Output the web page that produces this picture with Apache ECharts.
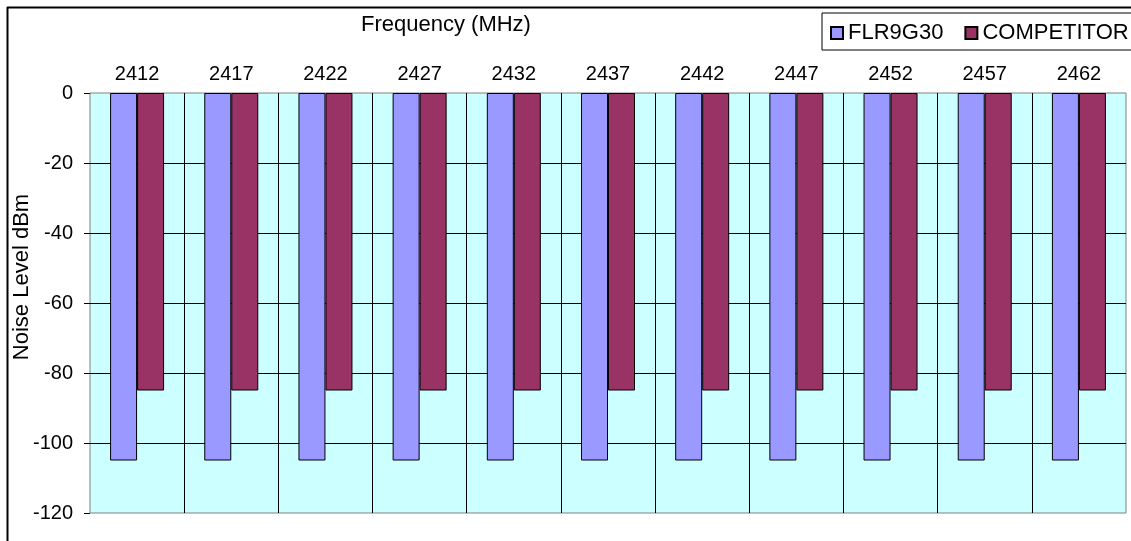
<!DOCTYPE html>
<html>
<head>
<meta charset="utf-8">
<script src="https://cdn.jsdelivr.net/npm/echarts@6/dist/echarts.min.js"></script>
<style>
html,body{margin:0;padding:0;background:#fff;}
#chart{width:1131px;height:541px;}
</style>
</head>
<body>
<div id="chart"></div>
<script>
const categories = ['2412','2417','2422','2427','2432','2437','2442','2447','2452','2457','2462'];
const flr9g30 = [-105,-105,-105,-105,-105,-105,-105,-105,-105,-105,-105];
const competitor = [-85,-85,-85,-85,-85,-85,-85,-85,-85,-85,-85];
const yTicks = {min:-120, max:0, interval:20};

const chart = echarts.init(document.getElementById('chart'));
const font = 'Liberation Sans, Arial, sans-serif';
chart.setOption({
  animation:false,
  backgroundColor:'#ffffff',
  title:{text:'Frequency (MHz)', left:356, top:9,
    textStyle:{fontFamily:font, fontSize:22, fontWeight:'normal', color:'#000'}},
  legend:{left:822, top:13, width:400, orient:'horizontal', padding:[9,8,6,8], icon:'rect',
    itemWidth:12, itemHeight:12, itemGap:21,
    borderColor:'#000', borderWidth:1, backgroundColor:'#fff',
    textStyle:{fontFamily:font, fontSize:22, color:'#000'},
    data:['FLR9G30','COMPETITOR']},
  grid:{left:90, right:5, top:93, bottom:28, show:true, backgroundColor:'#ccffff',
    borderColor:'#808080', borderWidth:1, outerBoundsMode:'none', containLabel:false},
  xAxis:{type:'category', data:categories, position:'top', boundaryGap:true,
    axisLine:{show:false}, axisTick:{show:false},
    axisLabel:{margin:9, fontFamily:font, fontSize:20, color:'#000', interval:0},
    splitLine:{show:true, interval:0, showMinLine:false, showMaxLine:false, lineStyle:{color:'#000', width:1}}},
  yAxis:{type:'value', min:yTicks.min, max:yTicks.max, interval:yTicks.interval,
    axisLine:{show:false},
    axisTick:{show:true, inside:false, length:6, lineStyle:{color:'#000'}},
    axisLabel:{margin:17, fontFamily:font, fontSize:20, color:'#000'},
    splitLine:{show:true, showMinLine:false, showMaxLine:false, lineStyle:{color:'#000', width:1}}},
  series:[
    {name:'FLR9G30', type:'bar', data:flr9g30, barWidth:27, barGap:'0%',
     itemStyle:{color:'#9999ff', borderColor:'#000', borderWidth:1}},
    {name:'COMPETITOR', type:'bar', data:competitor, barWidth:27, barGap:'0%',
     itemStyle:{color:'#993366', borderColor:'#000', borderWidth:1}}
  ],
  graphic:[
    {type:'line', shape:{x1:7, y1:7.5, x2:1131, y2:7.5}, style:{stroke:'#000', lineWidth:2}},
    {type:'line', shape:{x1:7.5, y1:7, x2:7.5, y2:541}, style:{stroke:'#000', lineWidth:2}},
    {type:'text', x:21.5, y:277, rotation:Math.PI/2,
     style:{text:'Noise Level dBm', fontFamily:font, fontSize:22, fill:'#000', align:'center', verticalAlign:'middle'}}
  ]
});
</script>
</body>
</html>
